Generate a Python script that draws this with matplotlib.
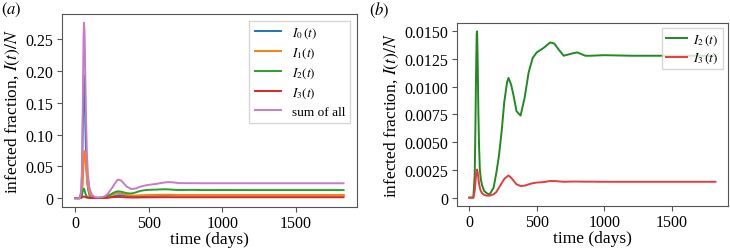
import matplotlib
matplotlib.use('Agg')
import matplotlib.pyplot as plt
from matplotlib.ticker import FuncFormatter, MultipleLocator

plt.rcParams['font.family'] = ['Liberation Serif', 'DejaVu Serif']
plt.rcParams['mathtext.fontset'] = 'stix'

# time grid (days) and infected fractions
t_days = [0, 30, 40, 45, 50, 55, 58, 62, 67, 72, 78, 85, 95, 110, 130, 150, 180, 200,
          220, 240, 260, 280, 290, 310, 330, 350, 380, 410, 440, 470, 500, 550, 600,
          630, 660, 700, 760, 800, 860, 900, 1000, 1200, 1500, 1825]

I0 = [0, 0, 0.01, 0.04, 0.11, 0.18, 0.193, 0.175, 0.12, 0.07, 0.035, 0.015, 0.005,
      0.0015, 0.0005, 0.0002, 0.0002, 0.0005, 0.001, 0.002, 0.003, 0.004, 0.0045,
      0.0045, 0.004, 0.0035, 0.003, 0.003, 0.0032, 0.0035, 0.0037, 0.004, 0.0042,
      0.0043, 0.0043, 0.0042, 0.0042, 0.0042, 0.0042, 0.0042, 0.0042, 0.0042,
      0.0042, 0.0042]

I1 = [0, 0, 0.002, 0.008, 0.025, 0.055, 0.068, 0.074, 0.065, 0.05, 0.032, 0.018,
      0.008, 0.003, 0.001, 0.0005, 0.0006, 0.0012, 0.0025, 0.0045, 0.0065, 0.0078,
      0.008, 0.0075, 0.0062, 0.005, 0.0042, 0.0042, 0.0045, 0.0048, 0.005, 0.0052,
      0.0055, 0.0055, 0.0053, 0.005, 0.005, 0.005, 0.005, 0.005, 0.005, 0.005,
      0.005, 0.005]

I2 = [0, 0, 0.002, 0.006, 0.011, 0.0148, 0.0150, 0.0125, 0.0080, 0.0048, 0.0026,
      0.0017, 0.0011, 0.0006, 0.0004, 0.00027, 0.0009, 0.0022, 0.0038, 0.0060,
      0.0087, 0.0104, 0.0108, 0.0102, 0.0091, 0.0078, 0.0074, 0.0090, 0.0113,
      0.0126, 0.0131, 0.0135, 0.0140, 0.0139, 0.0134, 0.0128, 0.0130, 0.0131,
      0.0128, 0.0128, 0.01285, 0.0128, 0.0128, 0.0128]

I3 = [0, 0, 0.0006, 0.0013, 0.0020, 0.0025, 0.00254, 0.0023, 0.0018, 0.0013,
      0.0009, 0.0006, 0.0004, 0.00025, 0.00018, 0.00018, 0.0003, 0.0005, 0.0009,
      0.0013, 0.0017, 0.0019, 0.0020, 0.0018, 0.0015, 0.0012, 0.00105, 0.00108,
      0.0012, 0.0013, 0.00136, 0.0014, 0.0015, 0.0015, 0.00147, 0.00143, 0.00145,
      0.00145, 0.00144, 0.00144, 0.00143, 0.00143, 0.00143, 0.00143]

I_sum = [0, 0, 0.014, 0.055, 0.15, 0.25, 0.276, 0.262, 0.195, 0.125, 0.071, 0.037,
         0.016, 0.006, 0.002, 0.001, 0.0016, 0.003, 0.007, 0.013, 0.020, 0.027,
         0.0293, 0.028, 0.023, 0.018, 0.0145, 0.0152, 0.018, 0.0198, 0.021, 0.0225,
         0.0245, 0.0253, 0.025, 0.0238, 0.0236, 0.0236, 0.0235, 0.0235, 0.0235,
         0.0235, 0.0235, 0.0235]

fig = plt.figure(figsize=(7.3, 2.53), dpi=100)
ax1 = fig.add_axes([0.085, 0.178, 0.404, 0.763])
ax2 = fig.add_axes([0.626, 0.182, 0.371, 0.723])


def zero_fmt(decimals):
    return FuncFormatter(lambda v, pos: '0' if abs(v) < 1e-12 else f'{v:.{decimals}f}')


# (a) all strains
ax1.plot(t_days, I0, color='tab:blue', lw=1.4, label=r'$I_0\,(t)$')
ax1.plot(t_days, I1, color='tab:orange', lw=1.4, label=r'$I_1(t)$')
ax1.plot(t_days, I2, color='tab:green', lw=1.4, label=r'$I_2(t)$')
ax1.plot(t_days, I3, color='tab:red', lw=1.4, label=r'$I_3(t)$')
ax1.plot(t_days, I_sum, color='#c77cc9', lw=1.4, label='sum of all')
ax1.yaxis.set_major_locator(MultipleLocator(0.05))
ax1.yaxis.set_major_formatter(zero_fmt(2))
ax1.legend(loc='upper right', fontsize=9.5, handlelength=2.0, labelspacing=0.4,
           borderaxespad=0.5, edgecolor='#cccccc', fancybox=False)

# (b) strains 2 and 3
ax2.plot(t_days, I2, color='#208a20', lw=1.4, label=r'$I_2\,(t)$')
ax2.plot(t_days, I3, color='#e83c3c', lw=1.4, label=r'$I_3\,(t)$')
ax2.yaxis.set_major_locator(MultipleLocator(0.0025))
ax2.yaxis.set_major_formatter(zero_fmt(4))
ax2.legend(loc='upper right', fontsize=9.5, handlelength=1.6, handletextpad=0.5,
           labelspacing=0.3, borderaxespad=0.4, borderpad=0.3,
           edgecolor='#cccccc', fancybox=False)

for ax in (ax1, ax2):
    ax.set_xticks([0, 500, 1000, 1500])
    ax.set_xlabel('time (days)', fontsize=12.5, labelpad=0)
    ax.set_ylabel(r'infected fraction, $I(t)/N$', fontsize=12.5, labelpad=3)
    ax.tick_params(labelsize=11.5, color='#555555', length=3.5, pad=2.5)
    for s in ax.spines.values():
        s.set_color('#555555')

fig.text(0.002, 0.995, r'$(a)$', fontsize=12, va='top', ha='left')
fig.text(0.505, 0.995, r'$(b)$', fontsize=12, va='top', ha='left')

fig.savefig('out.png', dpi=100)
